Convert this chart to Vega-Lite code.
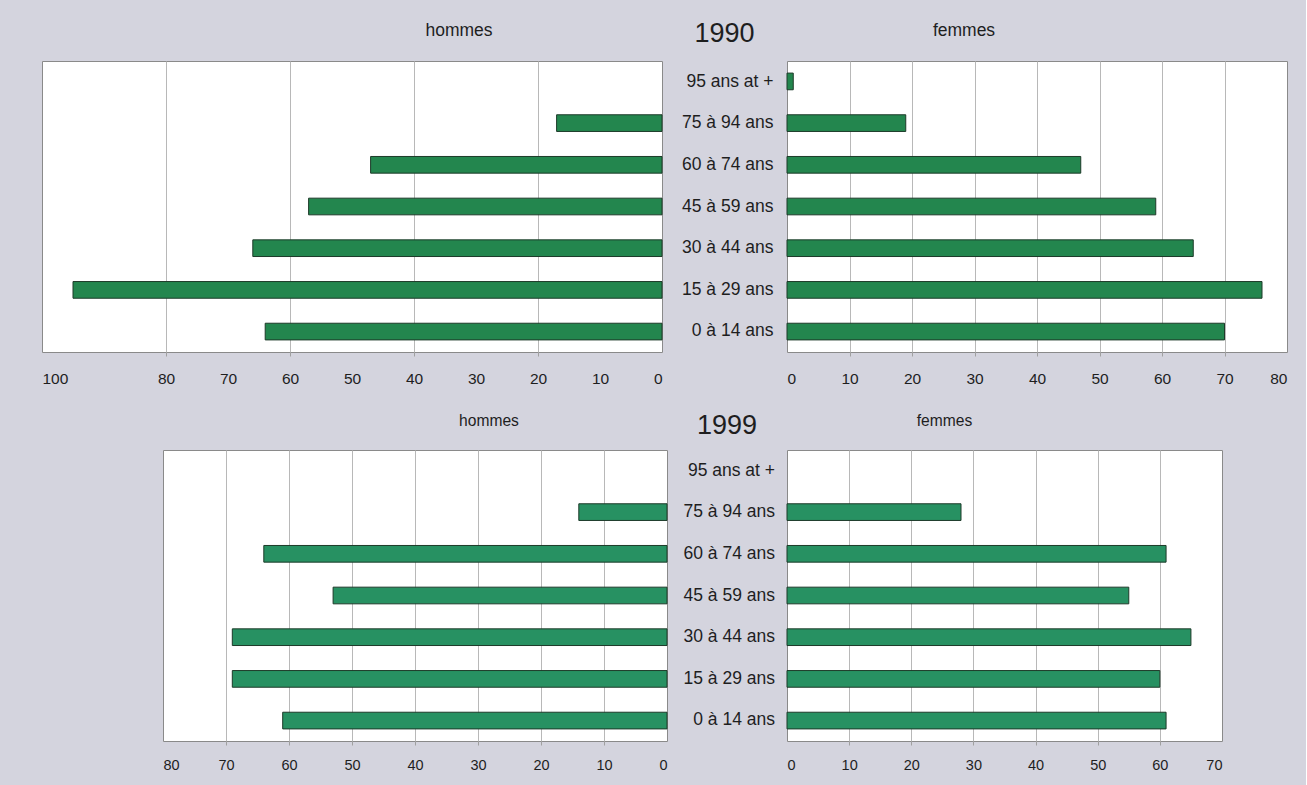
{
  "$schema": "https://vega.github.io/schema/vega-lite/v6.json",
  "background": "#d4d4de",
  "padding": {"left": 41, "top": 19, "right": 18, "bottom": 12},
  "config": {
    "font": "Liberation Sans",
    "view": {"fill": "white", "stroke": "#8a8a8a", "strokeWidth": 1},
    "axis": {"labelFont": "Liberation Sans", "labelColor": "#1e1e1e", "gridColor": "#b8b8b8", "tickColor": "#a0a0a0", "domain": false},
    "title": {"font": "Liberation Sans", "fontWeight": "normal", "color": "#1e1e1e", "anchor": "middle", "baseline": "alphabetic", "frame": "group"}
  },
  "data": {"values": [
    {"annee": 1990, "sexe": "hommes", "age": "95 ans at +", "valeur": 0},
    {"annee": 1990, "sexe": "hommes", "age": "75 à 94 ans", "valeur": 17},
    {"annee": 1990, "sexe": "hommes", "age": "60 à 74 ans", "valeur": 47},
    {"annee": 1990, "sexe": "hommes", "age": "45 à 59 ans", "valeur": 57},
    {"annee": 1990, "sexe": "hommes", "age": "30 à 44 ans", "valeur": 66},
    {"annee": 1990, "sexe": "hommes", "age": "15 à 29 ans", "valeur": 95},
    {"annee": 1990, "sexe": "hommes", "age": "0 à 14 ans", "valeur": 64},
    {"annee": 1990, "sexe": "femmes", "age": "95 ans at +", "valeur": 1},
    {"annee": 1990, "sexe": "femmes", "age": "75 à 94 ans", "valeur": 19},
    {"annee": 1990, "sexe": "femmes", "age": "60 à 74 ans", "valeur": 47},
    {"annee": 1990, "sexe": "femmes", "age": "45 à 59 ans", "valeur": 59},
    {"annee": 1990, "sexe": "femmes", "age": "30 à 44 ans", "valeur": 65},
    {"annee": 1990, "sexe": "femmes", "age": "15 à 29 ans", "valeur": 76},
    {"annee": 1990, "sexe": "femmes", "age": "0 à 14 ans", "valeur": 70},
    {"annee": 1999, "sexe": "hommes", "age": "95 ans at +", "valeur": 0},
    {"annee": 1999, "sexe": "hommes", "age": "75 à 94 ans", "valeur": 14},
    {"annee": 1999, "sexe": "hommes", "age": "60 à 74 ans", "valeur": 64},
    {"annee": 1999, "sexe": "hommes", "age": "45 à 59 ans", "valeur": 53},
    {"annee": 1999, "sexe": "hommes", "age": "30 à 44 ans", "valeur": 69},
    {"annee": 1999, "sexe": "hommes", "age": "15 à 29 ans", "valeur": 69},
    {"annee": 1999, "sexe": "hommes", "age": "0 à 14 ans", "valeur": 61},
    {"annee": 1999, "sexe": "femmes", "age": "95 ans at +", "valeur": 0},
    {"annee": 1999, "sexe": "femmes", "age": "75 à 94 ans", "valeur": 28},
    {"annee": 1999, "sexe": "femmes", "age": "60 à 74 ans", "valeur": 61},
    {"annee": 1999, "sexe": "femmes", "age": "45 à 59 ans", "valeur": 55},
    {"annee": 1999, "sexe": "femmes", "age": "30 à 44 ans", "valeur": 65},
    {"annee": 1999, "sexe": "femmes", "age": "15 à 29 ans", "valeur": 60},
    {"annee": 1999, "sexe": "femmes", "age": "0 à 14 ans", "valeur": 61}
  ]},
  "spacing": 23,
  "columns": 1,
  "align": "none",
  "concat": [
    {
      "bounds": "flush",
      "spacing": 0,
      "hconcat": [
        {
          "width": 620, "height": 291,
          "title": {"text": "hommes", "fontSize": 17.5, "dx": 107, "offset": 22},
          "transform": [{"filter": "datum.annee == 1990 && datum.sexe == 'hommes' && datum.valeur > 0"}],
          "mark": {"type": "bar", "fill": "#23864e", "stroke": "#1d3a29", "strokeWidth": 1},
          "encoding": {
            "y": {"field": "age", "type": "nominal", "scale": {"domain": ["95 ans at +", "75 à 94 ans", "60 à 74 ans", "45 à 59 ans", "30 à 44 ans", "15 à 29 ans", "0 à 14 ans"], "paddingInner": 0.6, "paddingOuter": 0.29}, "axis": null},
            "x": {"field": "valeur", "type": "quantitative", "scale": {"domain": [0, 100], "reverse": true, "nice": false},
              "axis": {"title": null, "values": [0, 10, 20, 30, 40, 50, 60, 70, 80, 100], "grid": true, "labelFontSize": 15.5, "tickSize": 4, "labelPadding": 15.5,
                "gridOpacity": {"condition": {"test": "datum.value % 20 == 0 && datum.value > 0 && datum.value < 100", "value": 1}, "value": 0},
                "tickOpacity": {"condition": {"test": "datum.value % 20 == 0 && datum.value > 0 && datum.value < 100", "value": 1}, "value": 0}}}
          }
        },
        {
          "width": 125, "height": 291,
          "view": {"fill": "transparent", "stroke": "transparent"},
          "title": {"text": "1990", "fontSize": 27, "offset": 13},
          "transform": [{"filter": "datum.annee == 1990 && datum.sexe == 'femmes'"}],
          "mark": {"type": "text", "align": "right", "baseline": "middle", "dx": 49, "fontSize": 17.5, "color": "#1e1e1e"},
          "encoding": {
            "y": {"field": "age", "type": "nominal", "scale": {"domain": ["95 ans at +", "75 à 94 ans", "60 à 74 ans", "45 à 59 ans", "30 à 44 ans", "15 à 29 ans", "0 à 14 ans"], "paddingInner": 0.6, "paddingOuter": 0.29}, "axis": null},
            "text": {"field": "age", "type": "nominal"}
          }
        },
        {
          "width": 500, "height": 291,
          "title": {"text": "femmes", "fontSize": 17.5, "dx": -73, "offset": 22},
          "transform": [{"filter": "datum.annee == 1990 && datum.sexe == 'femmes' && datum.valeur > 0"}],
          "mark": {"type": "bar", "fill": "#23864e", "stroke": "#1d3a29", "strokeWidth": 1},
          "encoding": {
            "y": {"field": "age", "type": "nominal", "scale": {"domain": ["95 ans at +", "75 à 94 ans", "60 à 74 ans", "45 à 59 ans", "30 à 44 ans", "15 à 29 ans", "0 à 14 ans"], "paddingInner": 0.6, "paddingOuter": 0.29}, "axis": null},
            "x": {"field": "valeur", "type": "quantitative", "scale": {"domain": [0, 80], "nice": false},
              "axis": {"title": null, "values": [0, 10, 20, 30, 40, 50, 60, 70, 80], "grid": true, "labelFontSize": 15.5, "tickSize": 4, "labelPadding": 15.5,
                "gridOpacity": {"condition": {"test": "datum.value > 0 && datum.value < 80", "value": 1}, "value": 0},
                "tickOpacity": {"condition": {"test": "datum.value > 0 && datum.value < 80", "value": 1}, "value": 0}}}
          }
        }
      ]
    },
    {
      "bounds": "flush",
      "spacing": 0,
      "hconcat": [
        {
          "width": 121, "height": 291,
          "view": {"fill": "transparent", "stroke": "transparent"},
          "transform": [{"filter": "false"}],
          "mark": {"type": "text"},
          "encoding": {}
        },
        {
          "width": 504, "height": 291,
          "title": {"text": "hommes", "fontSize": 15.6, "dx": 74, "offset": 20},
          "transform": [{"filter": "datum.annee == 1999 && datum.sexe == 'hommes' && datum.valeur > 0"}],
          "mark": {"type": "bar", "fill": "#279162", "stroke": "#1d3a29", "strokeWidth": 1},
          "encoding": {
            "y": {"field": "age", "type": "nominal", "scale": {"domain": ["95 ans at +", "75 à 94 ans", "60 à 74 ans", "45 à 59 ans", "30 à 44 ans", "15 à 29 ans", "0 à 14 ans"], "paddingInner": 0.6, "paddingOuter": 0.29}, "axis": null},
            "x": {"field": "valeur", "type": "quantitative", "scale": {"domain": [0, 80], "reverse": true, "nice": false},
              "axis": {"title": null, "values": [0, 10, 20, 30, 40, 50, 60, 70, 80], "grid": true, "labelFontSize": 14.5, "tickSize": 4, "labelPadding": 13.8,
                "gridOpacity": {"condition": {"test": "datum.value > 0 && datum.value < 80", "value": 1}, "value": 0},
                "tickOpacity": {"condition": {"test": "datum.value > 0 && datum.value < 80", "value": 1}, "value": 0}}}
          }
        },
        {
          "width": 120, "height": 291,
          "view": {"fill": "transparent", "stroke": "transparent"},
          "title": {"text": "1999", "fontSize": 27, "offset": 10},
          "transform": [{"filter": "datum.annee == 1999 && datum.sexe == 'femmes'"}],
          "mark": {"type": "text", "align": "right", "baseline": "middle", "dx": 48, "fontSize": 17.5, "color": "#1e1e1e"},
          "encoding": {
            "y": {"field": "age", "type": "nominal", "scale": {"domain": ["95 ans at +", "75 à 94 ans", "60 à 74 ans", "45 à 59 ans", "30 à 44 ans", "15 à 29 ans", "0 à 14 ans"], "paddingInner": 0.6, "paddingOuter": 0.29}, "axis": null},
            "text": {"field": "age", "type": "nominal"}
          }
        },
        {
          "width": 435, "height": 291,
          "title": {"text": "femmes", "fontSize": 15.6, "dx": -60, "offset": 20},
          "transform": [{"filter": "datum.annee == 1999 && datum.sexe == 'femmes' && datum.valeur > 0"}],
          "mark": {"type": "bar", "fill": "#279162", "stroke": "#1d3a29", "strokeWidth": 1},
          "encoding": {
            "y": {"field": "age", "type": "nominal", "scale": {"domain": ["95 ans at +", "75 à 94 ans", "60 à 74 ans", "45 à 59 ans", "30 à 44 ans", "15 à 29 ans", "0 à 14 ans"], "paddingInner": 0.6, "paddingOuter": 0.29}, "axis": null},
            "x": {"field": "valeur", "type": "quantitative", "scale": {"domain": [0, 70], "nice": false},
              "axis": {"title": null, "values": [0, 10, 20, 30, 40, 50, 60, 70], "grid": true, "labelFontSize": 14.5, "tickSize": 4, "labelPadding": 13.8,
                "gridOpacity": {"condition": {"test": "datum.value > 0 && datum.value < 70", "value": 1}, "value": 0},
                "tickOpacity": {"condition": {"test": "datum.value > 0 && datum.value < 70", "value": 1}, "value": 0}}}
          }
        }
      ]
    }
  ]
}
